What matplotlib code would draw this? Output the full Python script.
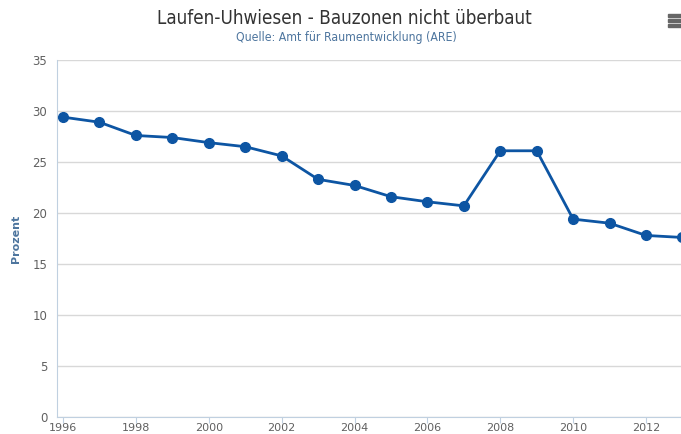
import matplotlib.pyplot as plt
from matplotlib.patches import Rectangle

years = [1996, 1997, 1998, 1999, 2000, 2001, 2002, 2003, 2004,
         2005, 2006, 2007, 2008, 2009, 2010, 2011, 2012, 2013]
prozent = [29.4, 28.9, 27.6, 27.4, 26.9, 26.5, 25.6, 23.3, 22.7,
           21.6, 21.1, 20.7, 26.1, 26.1, 19.4, 19.0, 17.8, 17.6]
yticks = [0, 5, 10, 15, 20, 25, 30, 35]
xticks = [1996, 1998, 2000, 2002, 2004, 2006, 2008, 2010, 2012]

plt.rcParams['font.family'] = ['DejaVu Sans']
fig = plt.figure(figsize=(6.81, 4.34), dpi=100)
ax = fig.add_axes([57 / 681, 17 / 434, 624 / 681, 357 / 434])

ax.plot(years, prozent, "-o", color="#0d55a3", lw=2, ms=7, clip_on=False, zorder=3)

ax.set_xlim(1995.835, 2012.96)
ax.set_ylim(0, 35)
ax.set_yticks(yticks)
ax.set_xticks(xticks)
ax.grid(axis="y", color="#d8d8d8", lw=1)
ax.set_axisbelow(True)
for s in ["top", "right"]:
    ax.spines[s].set_visible(False)
ax.spines["left"].set_color("#c0d0e0")
ax.spines["bottom"].set_color("#c0d0e0")
ax.tick_params(axis="y", length=0, pad=7, labelsize=8.5, labelcolor="#606060")
ax.tick_params(axis="x", length=4, color="#c0d0e0", pad=0.5, labelsize=8, labelcolor="#606060")
ax.set_ylabel("Prozent", color="#4d759e", fontsize=8, fontweight="bold", labelpad=8)

fig.text(0.505, 0.957, "Laufen-Uhwiesen - Bauzonen nicht überbaut",
         ha="center", va="center", fontsize=13.5, color="#333333", fontstretch="condensed")
fig.text(0.508, 0.913, "Quelle: Amt für Raumentwicklung (ARE)",
         ha="center", va="center", fontsize=8.8, color="#4d759e", fontstretch="condensed")

# menu icon
for i in range(3):
    fig.add_artist(Rectangle((668 / 681, (434 - 17 - 5 * i) / 434), 13 / 681, 3 / 434,
                             transform=fig.transFigure, color="#666666"))

plt.savefig("out.png", dpi=100)
